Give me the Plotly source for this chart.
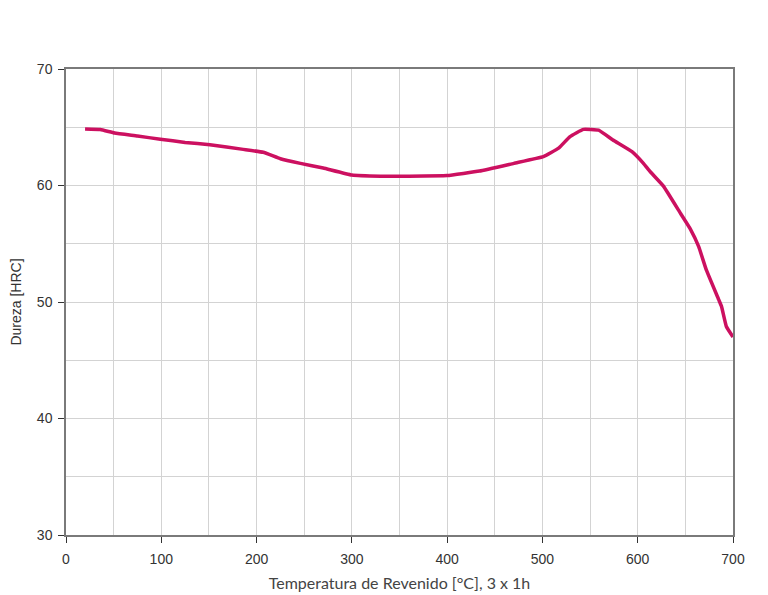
import plotly.graph_objects as go

temps = [20, 36, 51, 75, 99, 125, 151, 186, 207, 225, 246, 270, 300, 330, 360, 400,
         434, 470, 501, 517, 529, 543, 559, 574, 594, 606, 613, 627, 645, 655, 664,
         672, 685, 688, 693, 700]
hardness = [64.85, 64.8, 64.5, 64.25, 63.97, 63.7, 63.5, 63.1, 62.85, 62.3, 61.9, 61.5,
            60.9, 60.8, 60.8, 60.85, 61.24, 61.9, 62.47, 63.2, 64.2, 64.82, 64.75, 63.9,
            62.9, 61.9, 61.2, 59.95, 57.6, 56.3, 54.75, 52.75, 50.2, 49.6, 47.9, 47.0]

x_title = "Temperatura de Revenido [°C], 3 x 1h"
y_title = "Dureza [HRC]"

fig = go.Figure()
fig.add_trace(go.Scatter(x=temps, y=hardness, mode="lines",
                         line=dict(color="#cc1060", width=3.5, shape="spline", smoothing=0.3),
                         showlegend=False, hoverinfo="x+y"))

grid = "#d3d3d3"
axis_common = dict(showline=True, linecolor="#7a7a7a", linewidth=1.5, mirror=True,
                   ticks="outside", ticklen=6, tickcolor="#333", tickwidth=1,
                   showgrid=True, gridcolor=grid, gridwidth=1, zeroline=False,
                   tickfont=dict(family="Liberation Sans", size=14, color="#333"))

fig.update_xaxes(range=[0, 700], dtick=100, tick0=0, ticklabelstandoff=4,
                 minor=dict(dtick=50, showgrid=True, gridcolor=grid, gridwidth=1, ticks=""),
                 title=dict(text=x_title, font=dict(family="Lato", size=16, color="#444"),
                            standoff=12),
                 **axis_common)
fig.update_yaxes(range=[30, 70], dtick=10, tick0=30, ticklabelstandoff=3,
                 minor=dict(dtick=5, showgrid=True, gridcolor=grid, gridwidth=1, ticks=""),
                 title=dict(text=y_title, font=dict(family="Liberation Sans", size=14, color="#333"),
                            standoff=23),
                 **axis_common)

fig.update_layout(width=768, height=595, plot_bgcolor="white", paper_bgcolor="white",
                  margin=dict(l=58, r=43, t=61, b=68, autoexpand=False))

fig.write_html("out.html")
